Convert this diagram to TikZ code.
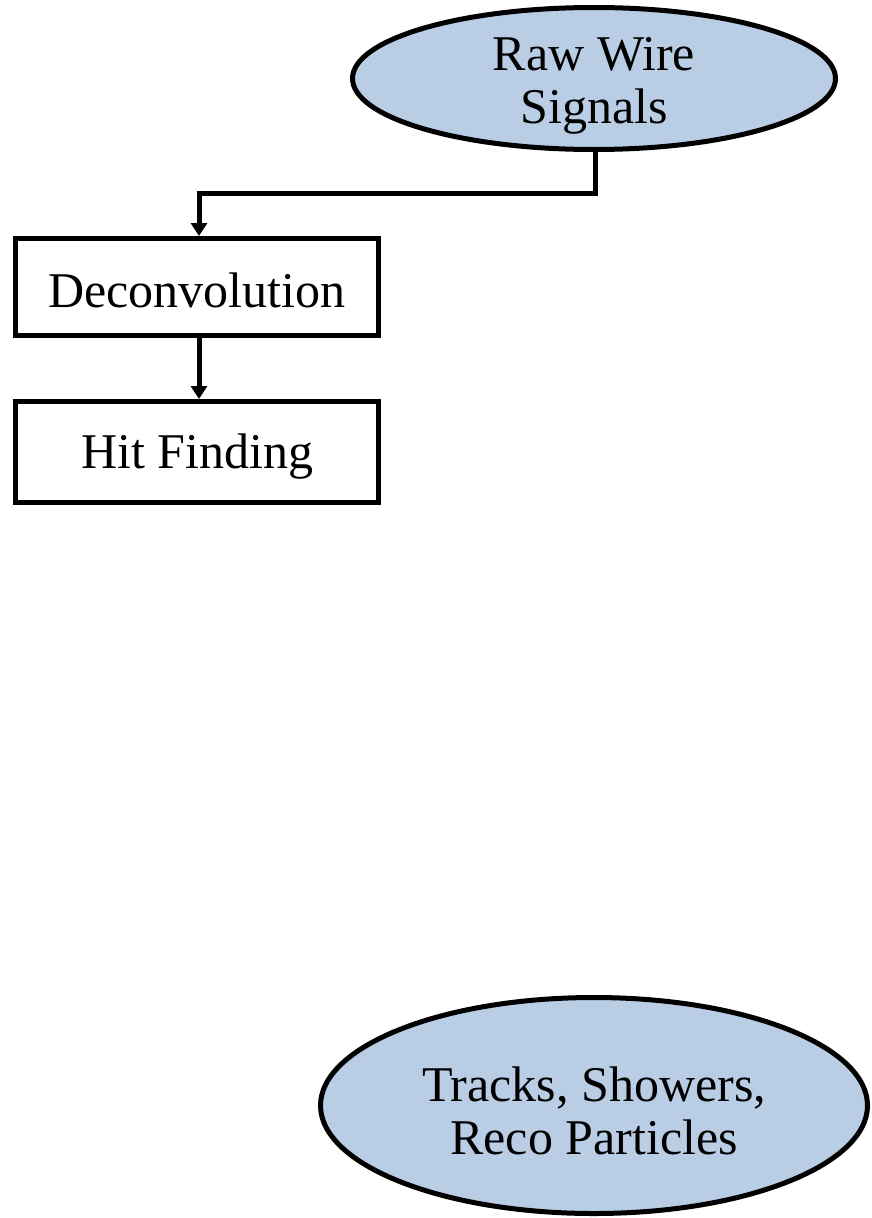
\documentclass[tikz,border=0pt]{standalone}
\usepackage{fontspec}
\setmainfont{Liberation Serif}
\usetikzlibrary{shapes.geometric,arrows.meta}
\definecolor{bluefill}{HTML}{B9CDE5}
\newcommand\lowered[2]{\raisebox{#1}[0pt][0pt]{\begin{tabular}[t]{@{}c@{}}#2\end{tabular}}}
\begin{document}
\begin{tikzpicture}[x=1pt,y=-1pt,
  every node/.style={font=\fontsize{50}{53}\selectfont, inner sep=0pt},
  oval/.style={ellipse, draw=black, line width=5pt, fill=bluefill},
  procbox/.style={rectangle, draw=black, line width=5pt, fill=white, minimum width=363pt},
  flow/.style={line width=5pt, -{Triangle[width=16pt,length=13pt]}}]
\useasboundingbox (0,0) rectangle (872,1218);
\node[oval, minimum width=483pt, minimum height=142pt] (raw) at (594,78.5) {\lowered{8.5pt}{Raw Wire\\Signals}};
\node[procbox, minimum height=97pt] (dec) at (197,287) {\lowered{-20pt}{Deconvolution}};
\node[procbox, minimum height=101pt] (hit) at (197,452) {\lowered{-16pt}{Hit Finding}};
\node[oval, minimum width=547pt, minimum height=216pt] (reco) at (594,1105.5) {\lowered{4.5pt}{Tracks, Showers,\\Reco Particles}};
\draw[flow] ([xshift=1pt]raw.south) -- ++(0,41) -| ([xshift=2pt]dec.north);
\draw[flow] ([xshift=2pt]dec.south) -- ([xshift=2pt]hit.north);
\end{tikzpicture}
\end{document}
